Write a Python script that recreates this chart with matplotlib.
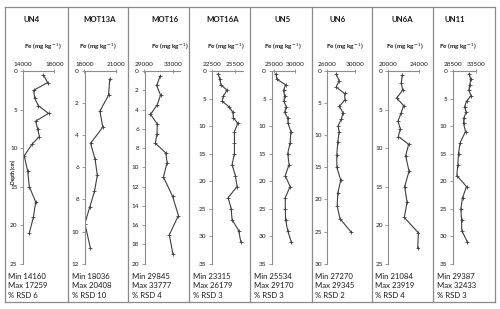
import matplotlib
matplotlib.use('Agg')
import matplotlib.pyplot as plt
from matplotlib.lines import Line2D

plt.rcParams['font.family'] = ['Lato', 'DejaVu Sans']

# sediment cores and Fe profiles
cores = ['UN4', 'MOT13A', 'MOT16', 'MOT16A', 'UN5', 'UN6', 'UN6A', 'UN11']

depth_un4 = [0.5, 1.5, 2.5, 3.5, 4.5, 5.5, 6.5, 7.5, 8.5, 9.5, 11, 13, 15, 17, 19, 21]
fe_un4 = [16600, 17150, 15360, 15490, 15960, 17259, 15620, 15870, 16090, 15150,
          14160, 14600, 14810, 15620, 15320, 14810]

depth_mot13a = [0.5, 1.5, 2.5, 3.5, 4.5, 5.5, 6.5, 7.5, 8.5, 9.5, 11]
fe_mot13a = [20408, 20290, 19470, 19740, 18580, 19010, 19220, 18950, 18490, 18036, 18550]

depth_mot16 = [0.5, 1.5, 2.5, 3.5, 4.5, 5.5, 6.5, 7.5, 8.5, 9.5, 11, 13, 15, 17, 19]
fe_mot16 = [31220, 30710, 31260, 30800, 29845, 30800, 30760, 30530, 31990, 32180,
            31670, 32950, 33777, 32500, 33000]

depth_mot16a = [0.5, 1.5, 2.5, 3.5, 4.5, 5.5, 6.5, 7.5, 8.5, 9.5,
                11, 13, 15, 17, 19, 21, 23, 25, 27, 29, 31]
fe_mot16a = [23315, 23530, 23650, 24450, 23990, 23820, 24700, 25170, 25250, 25800,
             25380, 25380, 25380, 25080, 25500, 25710, 24580, 24960, 25080, 25920, 26179]

depth_un5 = [0.5, 1.5, 2.5, 3.5, 4.5, 5.5, 6.5, 7.5, 8.5, 9.5,
             11, 13, 15, 17, 19, 21, 23, 25, 27, 29, 31]
fe_un5 = [25534, 25780, 27850, 27350, 27600, 27430, 28010, 27600, 28340, 28430,
          29090, 28920, 28340, 28670, 27760, 28920, 27760, 27760, 27850, 28340, 29170]

depth_un6 = [0.5, 1.5, 2.5, 3.5, 4.5, 5.5, 6.5, 7.5, 8.5, 9.5, 11, 13, 15, 17, 19, 21, 23, 25]
fe_un6 = [27270, 27690, 27270, 28470, 28520, 27730, 28240, 28010, 27550, 27690,
          27500, 27360, 27360, 27920, 27500, 27410, 27820, 29345]

depth_un6a = [0.5, 1.5, 2.5, 3.5, 4.5, 5.5, 6.5, 7.5, 8.5, 9.5, 11, 13, 15, 17, 19, 21, 23]
fe_un6a = [21830, 21690, 21870, 21084, 22000, 21650, 21260, 21560, 21300, 22650,
           22260, 22700, 22130, 22440, 22090, 23919, 23830]

depth_un11 = [0.5, 1.5, 2.5, 3.5, 4.5, 5.5, 6.5, 7.5, 8.5, 9.5,
              11, 13, 15, 17, 19, 21, 23, 25, 27, 29, 31]
fe_un11 = [32040, 32350, 32180, 31970, 32433, 31470, 31040, 31400, 30890, 30820,
           31250, 30100, 29750, 29600, 29387, 31470, 30610, 30250, 30390, 30460, 31610]

depths = [depth_un4, depth_mot13a, depth_mot16, depth_mot16a, depth_un5, depth_un6, depth_un6a, depth_un11]
fes = [fe_un4, fe_mot13a, fe_mot16, fe_mot16a, fe_un5, fe_un6, fe_un6a, fe_un11]

fe_min = [14160, 18036, 29845, 23315, 25534, 27270, 21084, 29387]
fe_max = [17259, 20408, 33777, 26179, 29170, 29345, 23919, 32433]
rsd = [6, 10, 4, 3, 3, 2, 4, 3]

x_ticks = [[14000, 18000], [18000, 21000], [29000, 33000], [22500, 25500],
           [25000, 30000], [26000, 30000], [20000, 24000], [28500, 33500]]
x_lims = [(14000, 18000), (18000, 21000), (29000, 34000), (22500, 26500),
          (24500, 30000), (26000, 30000), (20000, 24000), (28500, 33500)]
y_max = [25, 12, 20, 35, 35, 30, 25, 35]
y_step = [5, 2, 2, 5, 5, 5, 5, 5]

# layout in pixels of the 500x309 picture
W, H = 500, 309
panel_edges = [5, 68.3, 128.3, 189.3, 250, 311.7, 371.7, 433.3, 495]
axis_left = [23, 84.5, 144.5, 211.7, 271.5, 327.3, 388.3, 452.7]
axis_right = [54.3, 116, 180, 243.3, 294.7, 355.3, 419, 476]
title_x = [32, 100, 165, 223, 283, 338, 402, 455]
fe_label_x = [43, 98, 170, 226, 283, 345, 405, 458]
top_px, bottom_px = 71, 263.7

frame_col = '#8a8a8a'
axis_col = '#8c8c8c'
line_col = '#3f3f3f'
text_col = '#1a1a1a'


def fx(x):
    return x / W


def fy(y):
    return 1 - y / H


fig = plt.figure(figsize=(5, 3.09), dpi=100)

for i, core in enumerate(cores):
    ax = fig.add_axes([fx(axis_left[i]), fy(bottom_px),
                       (axis_right[i] - axis_left[i]) / W, (bottom_px - top_px) / H])
    ax.plot(fes[i], depths[i], color=line_col, lw=0.8, marker='+', ms=2.5, mew=0.6)
    ax.set_xlim(*x_lims[i])
    ax.set_ylim(y_max[i], 0)
    ax.set_xticks(x_ticks[i])
    ax.set_yticks(list(range(0, y_max[i] + 1, y_step[i])))
    ax.xaxis.tick_top()
    for s in ['right', 'bottom']:
        ax.spines[s].set_visible(False)
    for s in ['top', 'left']:
        ax.spines[s].set_color(axis_col)
        ax.spines[s].set_linewidth(0.8)
    ax.tick_params(axis='x', direction='inout', length=3, width=0.6, color=axis_col,
                   labelsize=4.6, pad=1.5, labelcolor=text_col)
    ax.tick_params(axis='y', direction='out', length=2.5, width=0.6, color=axis_col,
                   labelsize=4.6, pad=1.5, labelcolor=text_col)
    ax.patch.set_alpha(0)

    fig.text(fx(title_x[i]), fy(19.5), core, ha='center', va='center',
             fontsize=5.6, fontweight='bold', color=text_col)
    fig.text(fx(fe_label_x[i]), fy(47), 'Fe (mg kg$^{-1}$)', ha='center', va='center',
             fontsize=4.6, fontweight='bold', color=text_col)

    tx = panel_edges[i] + 3.5
    fig.text(fx(tx), fy(276.5), 'Min %d' % fe_min[i], ha='left', va='center',
             fontsize=5.6, color=text_col)
    fig.text(fx(tx), fy(286), 'Max %d' % fe_max[i], ha='left', va='center',
             fontsize=5.6, color=text_col)
    fig.text(fx(tx), fy(295.5), '%% RSD %d' % rsd[i], ha='left', va='center',
             fontsize=5.6, color=text_col)

fig.text(fx(13), fy(172), 'Depth (cm)', rotation=90, ha='center', va='center',
         fontsize=3.6, fontweight='bold', color=text_col)

# frame around the panels
for x in panel_edges:
    fig.add_artist(Line2D([fx(x), fx(x)], [fy(7), fy(301.7)], color=frame_col, lw=0.9))
for y in [7, 301.7]:
    fig.add_artist(Line2D([fx(panel_edges[0]), fx(panel_edges[-1])], [fy(y), fy(y)],
                          color=frame_col, lw=0.9))

fig.savefig('out.png', dpi=100)
